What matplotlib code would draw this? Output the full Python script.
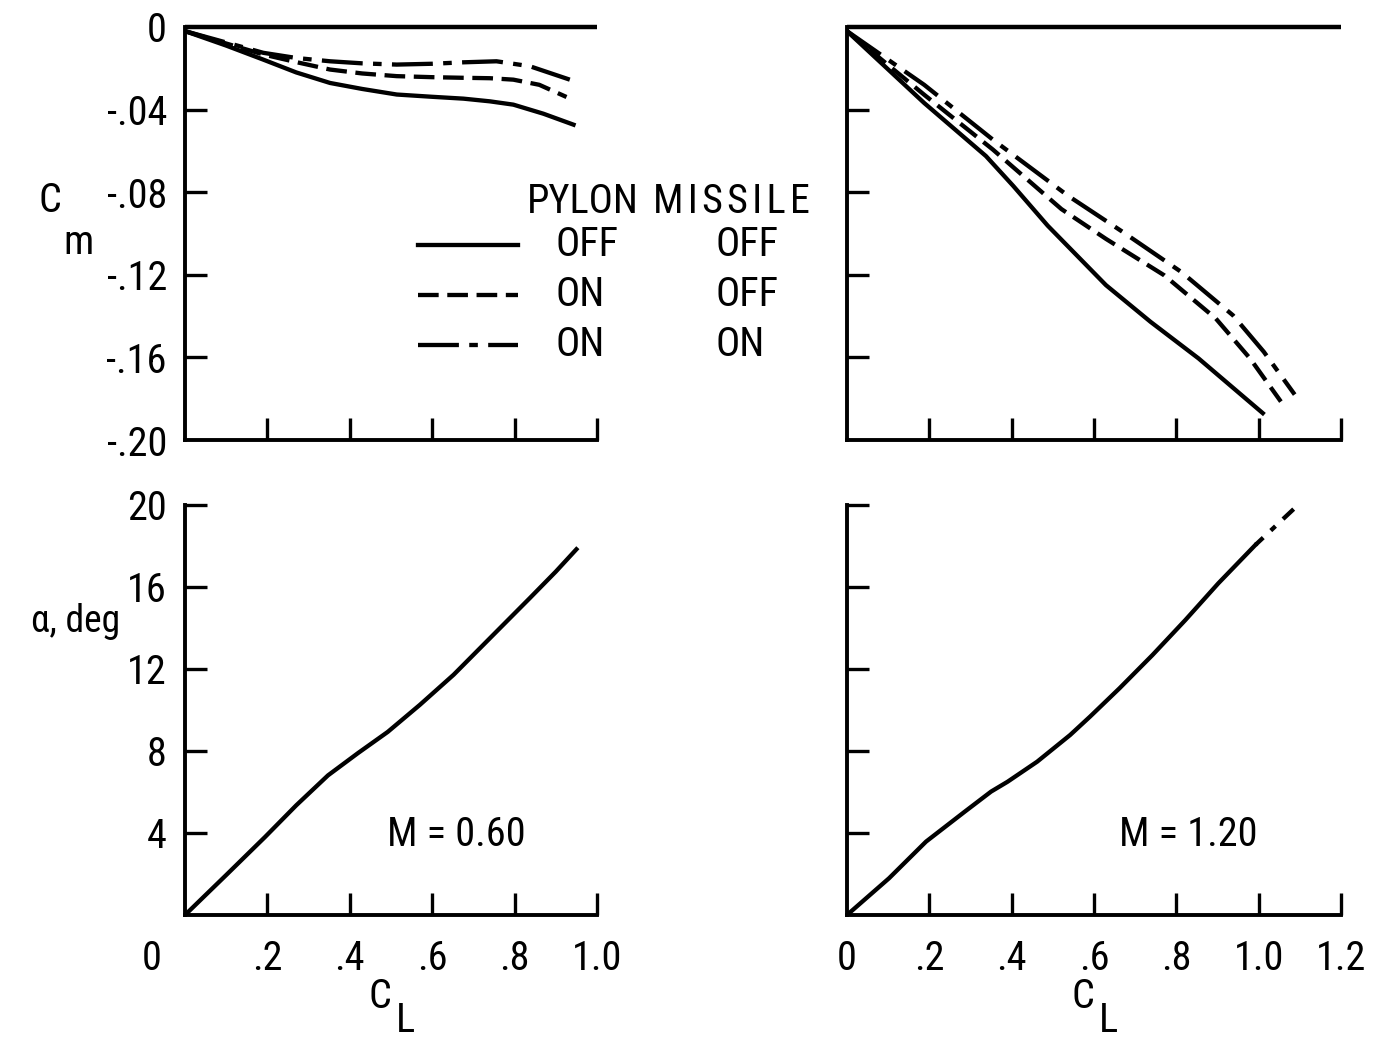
import matplotlib
matplotlib.use("Agg")
import matplotlib.pyplot as plt
from matplotlib.lines import Line2D

plt.rcParams['font.family'] = ['Liberation Sans Narrow', 'DejaVu Sans Condensed',
                               'Roboto Condensed', 'Open Sans Condensed',
                               'Roboto', 'DejaVu Sans']

# ---- data ----
# pitching moment, M = 0.60
cl_060_off = [0, .10, .19, .27, .352, .43, .514, .60, .676, .74, .797, .87, .943]
cm_060_off = [-.002, -.009, -.0158, -.022, -.0271, -.030, -.0327, -.0338,
              -.0347, -.036, -.0376, -.042, -.0473]
cl_060_pyl = [0, .10, .19, .27, .352, .43, .514, .60, .676, .74, .797, .86, .926]
cm_060_pyl = [-.002, -.008, -.0133, -.017, -.0206, -.0225, -.0238, -.0243,
              -.0246, -.0248, -.0255, -.028, -.0339]
cl_060_mis = [0, .10, .19, .27, .352, .43, .514, .60, .676, .756, .837, .934]
cm_060_mis = [-.002, -.0075, -.0125, -.015, -.0166, -.0176, -.0182, -.0178,
              -.0171, -.0166, -.019, -.0255]

# pitching moment, M = 1.20
cl_120_off = [0, .1875, .3375, .404, .4875, .629, .7375, .854, 1.01]
cm_120_off = [-.002, -.0368, -.0625, -.077, -.0962, -.125, -.1428, -.1605, -.187]
cl_120_pyl = [0, .1875, .354, .521, .629, .771, .896, .979, 1.054]
cm_120_pyl = [-.002, -.0328, -.0593, -.0882, -.1026, -.1203, -.1412, -.1605, -.1814]
cl_120_mis = [0, .1875, .354, .5375, .671, .8125, .9375, 1.0125, 1.0875]
cm_120_mis = [-.002, -.028, -.0545, -.0818, -.0994, -.1187, -.1396, -.1573, -.178]

# angle of attack
cl_a060 = [0, .10, .194, .27, .347, .42, .492, .57, .652, .74, .837, .90, .95]
alpha_060 = [0, 1.95, 3.8, 5.35, 6.81, 7.9, 8.93, 10.25, 11.72, 13.5, 15.46,
             16.75, 17.84]
cl_a120 = [0, .102, .192, .286, .350, .390, .462, .542, .590, .662, .742,
           .822, .902, .992]
alpha_120 = [0, 1.79, 3.58, 5.04, 6.02, 6.5, 7.48, 8.78, 9.67, 11.06, 12.68,
             14.39, 16.18, 18.05]
cl_a120_ext = [.992, 1.085]
alpha_120_ext = [18.05, 19.8]

cm_ticks = [0, -.04, -.08, -.12, -.16, -.20]
cm_labels = ['0', '-.04', '-.08', '-.12', '-.16', '-.20']
alpha_ticks = [4, 8, 12, 16, 20]
cl_ticks_060 = [.2, .4, .6, .8, 1.0]
cl_labels_060 = ['.2', '.4', '.6', '.8', '1.0']
cl_ticks_120 = [0, .2, .4, .6, .8, 1.0, 1.2]
cl_labels_120 = ['0', '.2', '.4', '.6', '.8', '1.0', '1.2']

configs = [('OFF', 'OFF'), ('ON', 'OFF'), ('ON', 'ON')]

# ---- styles ----
LW = 3.1
FS = 29
styles = ['-', (0, (4.8, 2.0)), (0, (9.5, 2.4, 2.0, 2.4))]

W, H = 1376, 1039
fig = plt.figure(figsize=(W / 100, H / 100), dpi=100)


def fx(px):
    return px / W


def fy(py):
    return 1 - py / H


ax_tl = fig.add_axes([fx(185), fy(440), 412 / W, 413 / H])
ax_tr = fig.add_axes([fx(847), fy(440), 494 / W, 413 / H])
ax_bl = fig.add_axes([fx(185), fy(915), 412 / W, 410 / H])
ax_br = fig.add_axes([fx(847), fy(915), 494 / W, 410 / H])

for ax in (ax_tl, ax_tr, ax_bl, ax_br):
    for s in ('top', 'right'):
        ax.spines[s].set_visible(False)
    for s in ('left', 'bottom'):
        ax.spines[s].set_linewidth(2.8)
    ax.tick_params(direction='in', length=16, width=2.4, labelsize=FS,
                   pad=13)
    ax.tick_params(axis='x', pad=17)

# top panels
for ax, xmax, data in [
        (ax_tl, 1.0, [(cl_060_off, cm_060_off), (cl_060_pyl, cm_060_pyl),
                      (cl_060_mis, cm_060_mis)]),
        (ax_tr, 1.2, [(cl_120_off, cm_120_off), (cl_120_pyl, cm_120_pyl),
                      (cl_120_mis, cm_120_mis)])]:
    ax.axhline(0, color='black', lw=3.2, solid_capstyle='butt', clip_on=False)
    for (x, y), ls in zip(data, styles):
        ax.plot(x, y, color='black', lw=LW, linestyle=ls)
    ax.set_xlim(0, xmax)
    ax.set_ylim(-.20, 0)
    ax.set_xticks(cl_ticks_060 if xmax == 1.0 else cl_ticks_120[1:])
    ax.set_xticklabels([])
    ax.set_yticks(cm_ticks[1:-1])

ax_tl.set_yticks(cm_ticks)
ax_tl.set_yticklabels(cm_labels)
ax_tl.yaxis.get_major_ticks()[0].tick1line.set_visible(False)
ax_tl.yaxis.get_major_ticks()[-1].tick1line.set_visible(False)
ax_tr.set_yticklabels([])

# bottom panels
ax_bl.plot(cl_a060, alpha_060, color='black', lw=LW)
ax_br.plot(cl_a120, alpha_120, color='black', lw=LW)
ax_br.plot(cl_a120_ext, alpha_120_ext, color='black', lw=LW,
           linestyle=(4, (6.5, 2.4, 1.5, 2.4)))
for ax in (ax_bl, ax_br):
    ax.set_ylim(0, 20)
    ax.set_yticks(alpha_ticks)
ax_bl.set_xlim(0, 1.0)
ax_bl.set_xticks(cl_ticks_060)
ax_bl.set_xticklabels(cl_labels_060)
ax_bl.set_yticklabels([str(v) for v in alpha_ticks])
ax_br.set_xlim(0, 1.2)
ax_br.set_xticks(cl_ticks_120)
ax_br.set_xticklabels(cl_labels_120)
ax_br.set_yticklabels([])
ax_br.xaxis.get_major_ticks()[0].tick1line.set_visible(False)

# origin label of the left panel
fig.text(fx(152), fy(958), '0', fontsize=FS, ha='center', va='center')

# axis labels
fig.text(fx(50), fy(200), 'C', fontsize=FS, ha='center', va='center')
fig.text(fx(78), fy(243), 'm', fontsize=FS, ha='center', va='center')
fig.text(fx(120), fy(622), 'α, deg', fontsize=27, ha='right', va='center')
for cx in (380, 1083):
    fig.text(fx(cx), fy(996), 'C', fontsize=FS, ha='center', va='center')
    fig.text(fx(cx + 25), fy(1021), 'L', fontsize=FS, ha='center',
             va='center')

# Mach labels
fig.text(fx(456), fy(834), 'M = 0.60', fontsize=FS, ha='center', va='center')
fig.text(fx(1188), fy(834), 'M = 1.20', fontsize=FS, ha='center', va='center')

# legend
fig.text(fx(527), fy(201), 'PYLON', fontsize=FS, ha='left', va='center')
fig.text(fx(653), fy(201), '\u200a'.join('MISSILE'), fontsize=FS,
         ha='left', va='center')
for i, ((pylon, missile), ls) in enumerate(zip(configs, styles)):
    yrow = 245 + 50 * i
    fig.add_artist(Line2D([fx(418), fx(518)], [fy(yrow), fy(yrow)],
                          color='black', lw=LW, linestyle=ls))
    fig.text(fx(555), fy(yrow), pylon, fontsize=FS, ha='left', va='center')
    fig.text(fx(715), fy(yrow), missile, fontsize=FS, ha='left', va='center')

fig.savefig('out.png', dpi=100)
